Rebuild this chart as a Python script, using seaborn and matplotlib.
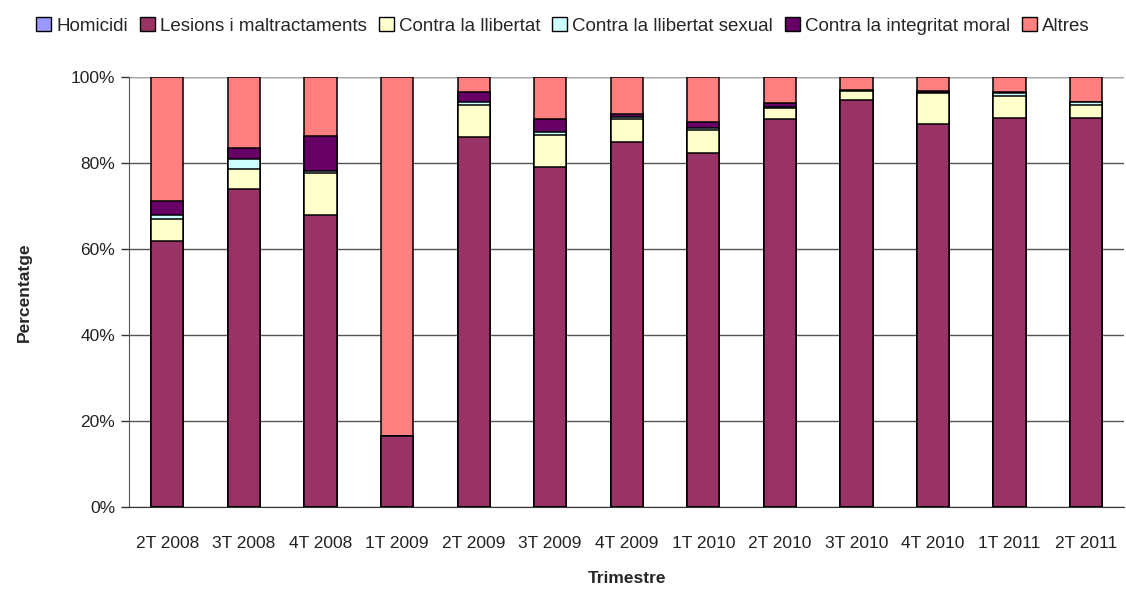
import pandas as pd
import matplotlib
matplotlib.use("Agg")
import matplotlib.pyplot as plt
import seaborn as sns
from matplotlib.patches import Patch
from matplotlib.ticker import FuncFormatter, FixedLocator

sns.set_style("white")
plt.rcParams['font.family'] = ['Liberation Sans', 'DejaVu Sans']

trimestres = ['2T 2008', '3T 2008', '4T 2008', '1T 2009', '2T 2009', '3T 2009', '4T 2009',
              '1T 2010', '2T 2010', '3T 2010', '4T 2010', '1T 2011', '2T 2011']
homicidi = [0.1, 0, 0, 0, 0.1, 0, 0, 0, 0, 0, 0, 0, 0]
lesions = [61.7, 74.0, 68.0, 16.5, 86.0, 79.0, 84.9, 82.3, 90.3, 94.6, 89.0, 90.6, 90.6]
llibertat = [5.3, 4.6, 9.8, 0, 7.5, 7.5, 5.3, 5.3, 2.5, 2.1, 7.2, 4.9, 2.9]
sexual = [0.9, 2.4, 0.3, 0, 0.6, 0.8, 0.6, 0.6, 0.2, 0.1, 0.1, 0.9, 0.6]
moral = [3.1, 2.6, 8.3, 0, 2.3, 3.0, 0.6, 1.4, 1.0, 0.3, 0.5, 0.2, 0.2]
altres = [29.0, 16.4, 13.6, 83.5, 3.6, 9.7, 8.6, 10.4, 6.0, 3.0, 3.3, 3.4, 5.7]

series = ['Homicidi', 'Lesions i maltractaments', 'Contra la llibertat',
          'Contra la llibertat sexual', 'Contra la integritat moral', 'Altres']
colors = ['#9999FF', '#993366', '#FFFFCC', '#CCFFFF', '#660066', '#FF8080']

df = pd.DataFrame({'Trimestre': trimestres, series[0]: homicidi, series[1]: lesions,
                   series[2]: llibertat, series[3]: sexual, series[4]: moral, series[5]: altres})
cum = df[series].cumsum(axis=1)
cum['Trimestre'] = trimestres

fig = plt.figure(figsize=(11.26, 5.93), dpi=100)
ax = fig.add_axes([0.1146, 0.145, 0.884, 0.725])

# stacked: draw the cumulative totals from the top series down
for name, col in reversed(list(zip(series, colors))):
    sns.barplot(data=cum, x='Trimestre', y=name, color=col, width=0.42,
                edgecolor='black', linewidth=1.1, saturation=1, ax=ax, zorder=3)

ax.set_ylim(0, 100)
ax.set_xlim(-0.5, len(trimestres) - 0.5)
ax.set_yticks([0, 20, 40, 60, 80, 100])
ax.yaxis.set_major_formatter(FuncFormatter(lambda v, p: f'{v:.0f}%'))
ax.yaxis.grid(True, color='#555555', linewidth=1, zorder=0)
ax.set_axisbelow(True)

ax.set_xticks(range(len(trimestres)))
ax.set_xticklabels(trimestres)
ax.xaxis.set_minor_locator(FixedLocator([i - 0.5 for i in range(len(trimestres) + 1)]))
ax.tick_params(axis='x', which='major', length=0, pad=21, labelsize=12.5, colors='#222222')
ax.tick_params(axis='x', which='minor', length=6, width=1, direction='out', color='#333333')
ax.tick_params(axis='y', length=6, width=1, direction='out', left=True, labelsize=12.5,
               labelcolor='#222222', color='#333333', pad=4)

for s in ['top', 'right']:
    ax.spines[s].set_visible(False)
ax.spines['left'].set_color('#555555')
ax.spines['bottom'].set_color('#333333')
ax.axhline(100, color='#AAAAAA', linewidth=1, zorder=1)

ax.set_xlabel('Trimestre', fontsize=12.5, fontweight='bold', labelpad=14)
ax.set_ylabel('Percentatge', fontsize=12.5, fontweight='bold', labelpad=28)

handles = [Patch(facecolor=c, edgecolor='black', linewidth=1) for c in colors]
fig.legend(handles, series, loc='upper center', bbox_to_anchor=(0.5, 1.0), ncol=6,
           frameon=False, fontsize=13.5, handlelength=0.8, handleheight=0.8,
           handletextpad=0.3, columnspacing=0.6)

fig.savefig('out.png', dpi=100)
